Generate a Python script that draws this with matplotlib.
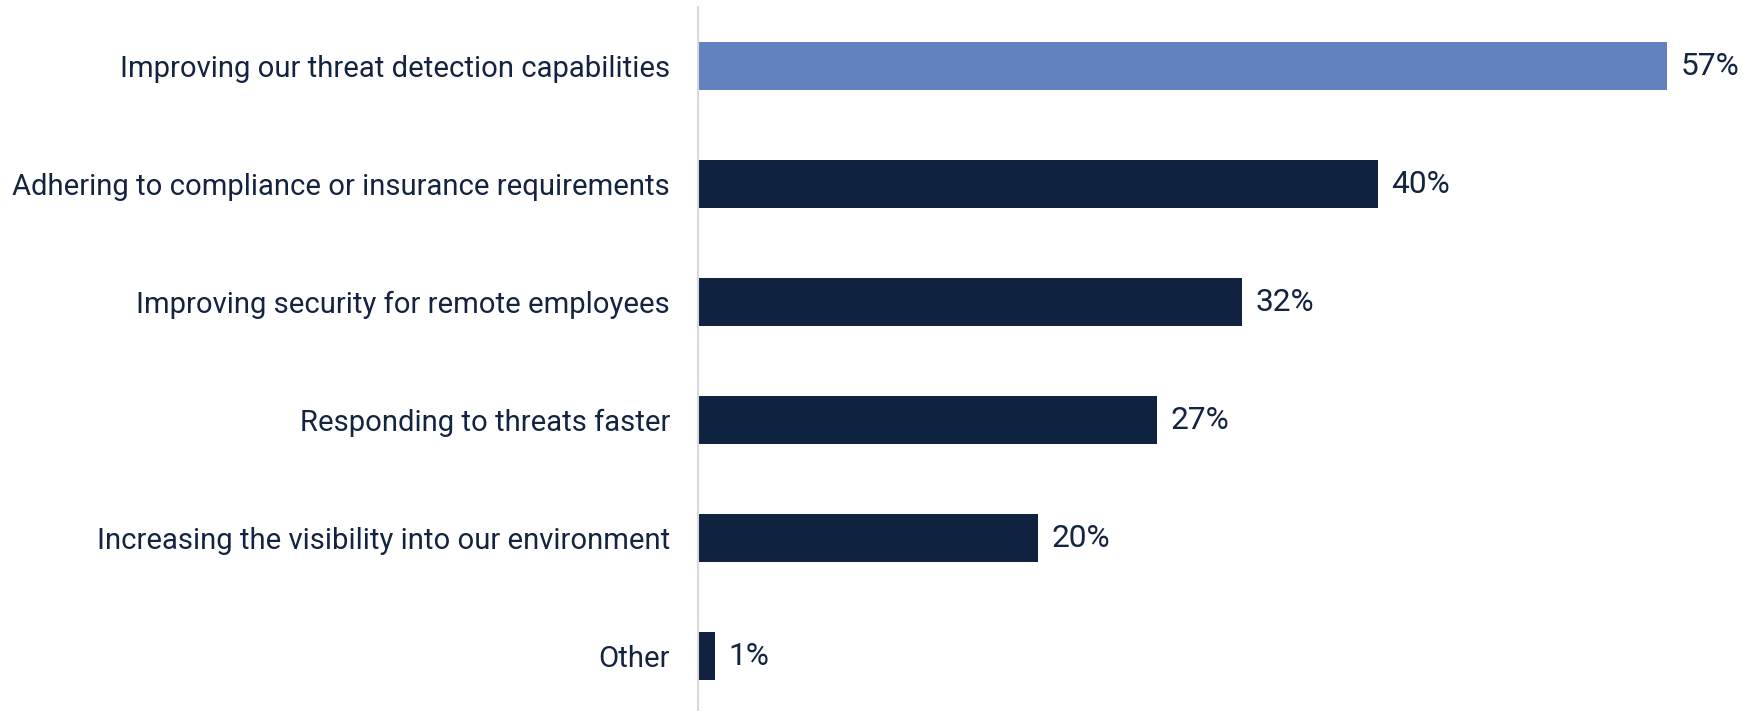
import numpy as np
import matplotlib.pyplot as plt

# Survey data
categories = [
    'Improving our threat detection capabilities',
    'Adhering to compliance or insurance requirements',
    'Improving security for remote employees',
    'Responding to threats faster',
    'Increasing the visibility into our environment',
    'Other',
]
values = [57, 40, 32, 27, 20, 1]
bar_colors = ['#6380BF', '#0F2240', '#0F2240', '#0F2240', '#0F2240', '#0F2240']
text_color = '#14233F'

plt.rcParams['font.family'] = ['Roboto', 'DejaVu Sans']

W, H = 1756, 711
fig = plt.figure(figsize=(W / 100, H / 100), dpi=100)
ax = fig.add_axes([698 / W, 0, 1 - 698 / W, 704 / H])

y = np.arange(len(categories))
ax.barh(y, values, height=0.40, color=bar_colors)

for yi, v in zip(y, values):
    ax.text(v + 0.8, yi, f'{v}%', va='center', ha='left',
            fontsize=22.8, color=text_color)

ax.set_xlim(0, (W - 698) / 17.0)
ax.set_ylim(len(categories) - 0.534, -0.5)
ax.set_yticks(y)
ax.set_yticklabels(categories, fontsize=21.1, color=text_color)
ax.tick_params(axis='y', length=0, pad=20)
ax.set_xticks([])

for s in ['top', 'right', 'bottom']:
    ax.spines[s].set_visible(False)
ax.spines['left'].set_color('#D9D9D9')
ax.spines['left'].set_linewidth(1.5)

fig.savefig('out.png', dpi=100)
